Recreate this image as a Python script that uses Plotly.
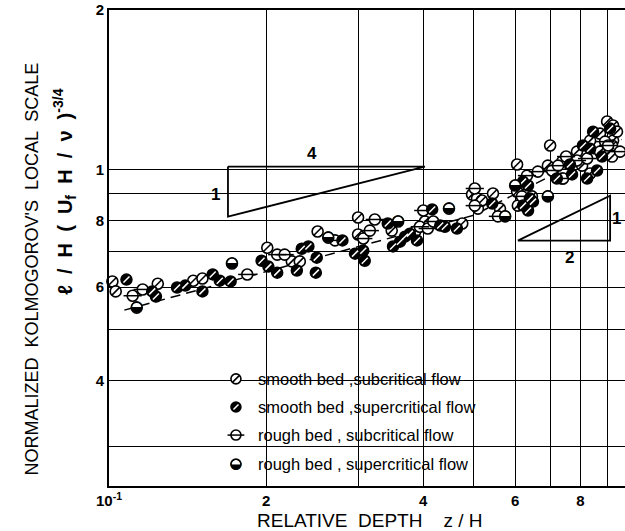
import math
import plotly.graph_objects as go

# ---------------- data ----------------
# smooth bed, subcritical flow
ss_x = [0.1015, 0.103, 0.124, 0.145, 0.151, 0.201, 0.224, 0.232, 0.251, 0.300, 0.300, 0.348,
        0.386, 0.403, 0.475, 0.496, 0.507, 0.509, 0.605, 0.605, 0.607, 0.646, 0.693, 0.700,
        0.738, 0.738, 0.788, 0.806, 0.835, 0.872, 0.912, 0.924, 0.900, 0.924, 0.940, 0.872,
        0.835, 0.920, 0.920, 0.544, 0.561, 0.518]
ss_y = [0.615, 0.589, 0.609, 0.617, 0.623, 0.712, 0.671, 0.671, 0.764, 0.812, 0.754, 0.767,
        0.764, 0.798, 0.791, 0.897, 0.882, 0.844, 1.022, 0.909, 0.855, 0.890, 1.017, 1.110,
        1.035, 0.962, 1.081, 1.017, 0.983, 1.081, 1.081, 1.134, 1.232, 1.211, 1.179, 1.169,
        1.134, 1.110, 1.058, 0.901, 0.844, 0.874]

# smooth bed, supercritical flow
sp_x = [0.108, 0.121, 0.123, 0.135, 0.140, 0.151, 0.158, 0.163, 0.171, 0.196, 0.202, 0.210,
        0.229, 0.234, 0.241, 0.250, 0.249, 0.280, 0.296, 0.307, 0.309, 0.342, 0.350, 0.361,
        0.369, 0.377, 0.389, 0.416, 0.431, 0.440, 0.464, 0.542, 0.621, 0.635, 0.621, 0.640,
        0.649, 0.635, 0.721, 0.764, 0.771, 0.824, 0.861, 0.835, 0.846, 0.912, 0.809, 0.880]
sp_y = [0.620, 0.589, 0.576, 0.599, 0.604, 0.589, 0.634, 0.617, 0.615, 0.673, 0.656, 0.639,
        0.645, 0.709, 0.716, 0.682, 0.639, 0.735, 0.694, 0.703, 0.673, 0.791, 0.716, 0.731,
        0.747, 0.757, 0.735, 0.841, 0.784, 0.780, 0.774, 0.863, 0.949, 0.933, 0.855, 0.882,
        0.870, 0.837, 0.962, 1.022, 0.979, 0.962, 0.996, 1.095, 1.179, 1.195, 1.110, 1.058]

# rough bed, subcritical flow
rs_x = [0.111, 0.116, 0.184, 0.210, 0.217, 0.271, 0.307, 0.316, 0.323, 0.394, 0.400, 0.408,
        0.418, 0.502, 0.502, 0.556, 0.618, 0.632, 0.663, 0.706, 0.725, 0.751, 0.788, 0.824,
        0.892, 0.904, 0.953, 0.741]
rs_y = [0.578, 0.594, 0.634, 0.691, 0.691, 0.735, 0.741, 0.767, 0.805, 0.780, 0.837, 0.774,
        0.798, 0.921, 0.855, 0.816, 0.890, 0.974, 0.991, 0.996, 1.017, 1.058, 1.040, 1.049,
        1.129, 1.110, 1.081, 0.962]

# rough bed, supercritical flow
rp_x = [0.113, 0.172, 0.263, 0.448, 0.693, 0.358, 0.574, 0.600]
rp_y = [0.549, 0.665, 0.744, 0.844, 0.890, 0.798, 0.816, 0.933]

# dashed trend line (slope ~1/4 then ~1/2)
trend_x = [0.107, 0.50, 0.96]
trend_y = [0.543, 0.82, 1.14]

# slope triangles
tri1_x = [0.169, 0.403, 0.169, 0.169]
tri1_y = [1.013, 1.013, 0.815, 1.013]
tri2_x = [0.607, 0.912, 0.912, 0.607]
tri2_y = [0.7345, 0.7345, 0.893, 0.7345]

# axis ticks
x_tickvals = [0.1, 0.2, 0.4, 0.6, 0.8]
x_ticktext = ["10<sup>-1</sup>", "2", "4", "6", "8"]
x_minor = [0.3, 0.5, 0.7, 0.9]
y_tickvals = [0.4, 0.6, 0.8, 1.0, 2.0]
y_ticktext = ["4", "6", "8", "1", "2"]
y_minor = [0.3, 0.5, 0.7, 0.9]

legend_labels = ["smooth bed ,subcritical flow", "smooth bed ,supercritical flow",
                 "rough bed , subcritical flow", "rough bed , supercritical flow"]

FONT = "Liberation Sans"
MS = 11

fig = go.Figure()

# trend line
fig.add_trace(go.Scatter(x=trend_x, y=trend_y, mode="lines",
                         line=dict(color="black", width=1.5, dash="10px,6px"),
                         showlegend=False, hoverinfo="skip"))

# triangles
for tx, ty in ((tri1_x, tri1_y), (tri2_x, tri2_y)):
    fig.add_trace(go.Scatter(x=tx, y=ty, mode="lines",
                             line=dict(color="black", width=1.8),
                             showlegend=False, hoverinfo="skip"))


def add_markers(x, y, kind, xa="x", ya="y", size=MS):
    common = dict(showlegend=False, cliponaxis=False, xaxis=xa, yaxis=ya, hoverinfo="skip")
    if kind == "ss":
        fig.add_trace(go.Scatter(x=x, y=y, mode="markers", marker=dict(symbol="circle", size=size, color="white",
                                 line=dict(color="black", width=1.6)), **common))
        fig.add_trace(go.Scatter(x=x, y=y, mode="markers", marker=dict(symbol="line-ne", size=size - 3,
                                 line=dict(color="black", width=1.6)), **common))
    elif kind == "sp":
        fig.add_trace(go.Scatter(x=x, y=y, mode="markers", marker=dict(symbol="circle", size=size, color="black",
                                 line=dict(color="black", width=1.5)), **common))
        fig.add_trace(go.Scatter(x=x, y=y, mode="markers", marker=dict(symbol="line-ne", size=size - 5,
                                 line=dict(color="white", width=1.5)), **common))
    elif kind == "rs":
        fig.add_trace(go.Scatter(x=x, y=y, mode="markers", marker=dict(symbol="circle", size=size, color="white",
                                 line=dict(color="black", width=1.6)), **common))
        fig.add_trace(go.Scatter(x=x, y=y, mode="markers", marker=dict(symbol="line-ew", size=size + 2,
                                 line=dict(color="black", width=1.5)), **common))
    else:
        fig.add_trace(go.Scatter(x=x, y=y, mode="markers", marker=dict(symbol="circle", size=size, color="white",
                                 line=dict(color="black", width=1.6)), **common))
        fig.add_trace(go.Scatter(x=x, y=y, mode="text", text=["◒"] * len(x),
                                 textposition="middle center",
                                 textfont=dict(family="DejaVu Sans", size=size + 4, color="black"),
                                 **common))


add_markers(ss_x, ss_y, "ss")
add_markers(rs_x, rs_y, "rs")
add_markers(sp_x, sp_y, "sp")
add_markers(rp_x, rp_y, "rp")

# custom legend (symbols on an invisible overlay axis in [0,1] units)
leg_y = [0.225, 0.166, 0.107, 0.046]
leg_sym_x = 0.246
for kind, ly in zip(["ss", "sp", "rs", "rp"], leg_y):
    add_markers([leg_sym_x], [ly], kind, xa="x2", ya="y2", size=10)

annotations = []
for lab, ly in zip(legend_labels, leg_y):
    annotations.append(dict(x=0.285, y=ly, xref="paper", yref="paper", text=lab,
                            showarrow=False, xanchor="left", yanchor="middle",
                            font=dict(family=FONT, size=16.5, color="black")))

# triangle labels
for tx, ty, t in ((0.245, 1.07, "4"), (0.160, 0.897, "1"), (0.762, 0.683, "2"), (0.937, 0.808, "1")):
    annotations.append(dict(x=math.log10(tx), y=math.log10(ty), xref="x", yref="y", text=t,
                            showarrow=False, xanchor="center", yanchor="middle",
                            font=dict(family=FONT, size=17, color="black", weight="bold")))

# axis titles
annotations.append(dict(x=0.506, y=-0.072, xref="paper", yref="paper",
                        text="RELATIVE  DEPTH    z / H", showarrow=False,
                        xanchor="center", yanchor="middle",
                        font=dict(family=FONT, size=19, color="black")))
annotations.append(dict(x=-0.149, y=0.455, xref="paper", yref="paper",
                        text="NORMALIZED  KOLMOGOROV'S  LOCAL  SCALE", showarrow=False,
                        textangle=-90, xanchor="center", yanchor="middle",
                        font=dict(family=FONT, size=18, color="black")))
annotations.append(dict(x=-0.085, y=0.618, xref="paper", yref="paper",
                        text="ℓ  /  H  (  U<sub>f</sub>  H  /  ν  )<sup>-3/4</sup>", showarrow=False,
                        textangle=-90, xanchor="center", yanchor="middle",
                        font=dict(family=FONT, size=20, color="black", weight="bold")))

shapes = [dict(type="rect", xref="paper", yref="paper", x0=0.215, x1=0.725, y0=0.03, y1=0.245,
               fillcolor="white", line=dict(width=0), layer="between")]

tickfont = dict(family=FONT, size=15, color="black", weight="bold")

fig.update_layout(
    width=625, height=531,
    margin=dict(l=109, r=0, t=10, b=45),
    paper_bgcolor="white", plot_bgcolor="white",
    showlegend=False,
    annotations=annotations,
    shapes=shapes,
    xaxis=dict(type="log", range=[-1, -0.0115], tickvals=x_tickvals, ticktext=x_ticktext,
               showgrid=True, gridcolor="black", gridwidth=1,
               minor=dict(tickvals=x_minor, showgrid=True, gridcolor="black", gridwidth=1, ticks=""),
               showline=True, linecolor="black", linewidth=2, mirror=True,
               ticks="", zeroline=False, tickfont=tickfont),
    yaxis=dict(type="log", range=[math.log10(0.2529), math.log10(2)], tickvals=y_tickvals,
               ticktext=y_ticktext, showgrid=True, gridcolor="black", gridwidth=1,
               minor=dict(tickvals=y_minor, showgrid=True, gridcolor="black", gridwidth=1, ticks=""),
               showline=True, linecolor="black", linewidth=2, mirror=False,
               ticks="", zeroline=False, tickfont=tickfont),
    xaxis2=dict(overlaying="x", range=[0, 1], visible=False, fixedrange=True),
    yaxis2=dict(overlaying="y", range=[0, 1], visible=False, fixedrange=True),
)

fig.write_html("out.html")
